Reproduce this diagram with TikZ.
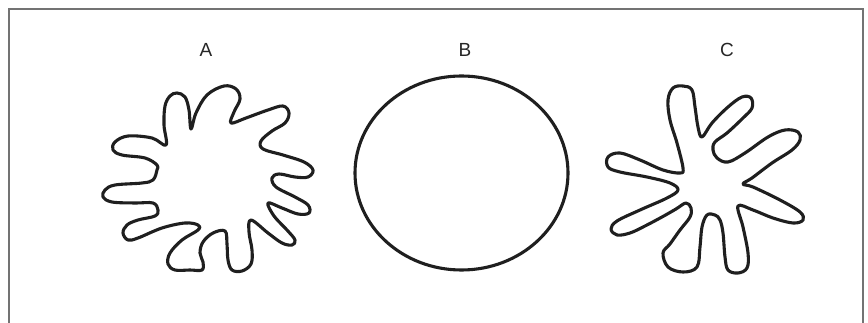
\documentclass[tikz,border=0pt]{standalone}
\usepackage{fontspec}
\setmainfont{Liberation Sans}
\usepackage{tikz}
\usetikzlibrary{positioning}
\tikzset{
myframe/.style={
  draw=black!55,
  line width=1.3pt
  },
myblob/.style={
  draw=black!88,
  line width=3.1pt,
  line join=round
  },
mylabel/.style={
  font=\fontsize{19}{22}\selectfont,
  text=black!85,
  inner sep=0pt
  }
}

\begin{document}
\begin{tikzpicture}[x=1pt,y=-1pt]

\useasboundingbox (0,0) rectangle (868,323);

\draw[myframe] (9,330) -- (9,9) -- (863,9) -- (863,330);

\node[mylabel] (labA) at (206,50) {A};
\node[mylabel] (labB) at (465,50) {B};
\node[mylabel] (labC) at (727,50) {C};


\draw[myblob] plot[smooth cycle,tension=0.6] coordinates {
(166,145) (164,125) (165,106) (170,96) (177,93) (185,97) (189,110) (191,129)
(196,113) (207,95) (224,86) (236,89) (240,99) (234,112) (231,123)
(246,118) (268,110) (283,106) (289,113) (285,123) (272,131) (261,141)
(263,149) (283,155) (304,162) (313,170) (308,177) (295,177) (279,174) (272,178)
(276,187) (295,197) (308,205) (309,213) (298,214) (282,208) (268,203)
(274,216) (287,230) (295,240) (292,245) (282,243) (268,233) (251,220)
(249,232) (252,250) (251,264) (242,271) (232,270) (228,260) (227,244) (225,231)
(213,233) (203,242) (200,253) (203,262) (202,270) (190,270) (175,270) (168,264)
(170,253) (182,240) (198,230) (198,225) (185,223) (162,228) (138,238) (128,240)
(123,233) (127,225) (138,220) (155,216) (158,210) (153,203) (135,203) (112,202)
(103,197) (105,190) (115,185) (142,183) (153,180) (157,170) (157,165) (145,158)
(122,155) (113,150) (115,142) (128,136) (152,138)
};


\draw[myblob] (461.5,173) ellipse [x radius=106.5, y radius=97];


\draw[myblob] plot[smooth cycle,tension=0.6] coordinates {
(683,168) (677,143) (670,120) (668,100) (673,88) (683,86) (692,90) (695,107)
(698,127) (702,137)
(712,123) (728,107) (742,97) (751,98) (752,108) (743,118) (727,133) (715,142)
(713,150) (717,158) (728,162) (745,153) (768,137) (785,130) (798,132) (800,140)
(792,150) (772,163) (752,178) (743,184)
(753,187) (780,200) (800,212) (803,220) (793,223) (773,218) (753,210) (738,206)
(743,227) (748,253) (747,268) (738,273) (728,270) (725,257) (723,233) (720,220)
(715,215)
(707,215) (702,227) (700,247) (697,267) (683,272) (668,267) (663,253) (670,244)
(680,230) (690,217) (691,208) (686,203)
(676,209) (662,217) (645,226) (630,233) (617,235) (611,229) (617,221) (640,210)
(667,198) (678,190)
(670,183) (647,177) (620,172) (608,167) (608,157) (620,153) (640,160) (663,170)
(680,173)
};

\end{tikzpicture}
\end{document}
